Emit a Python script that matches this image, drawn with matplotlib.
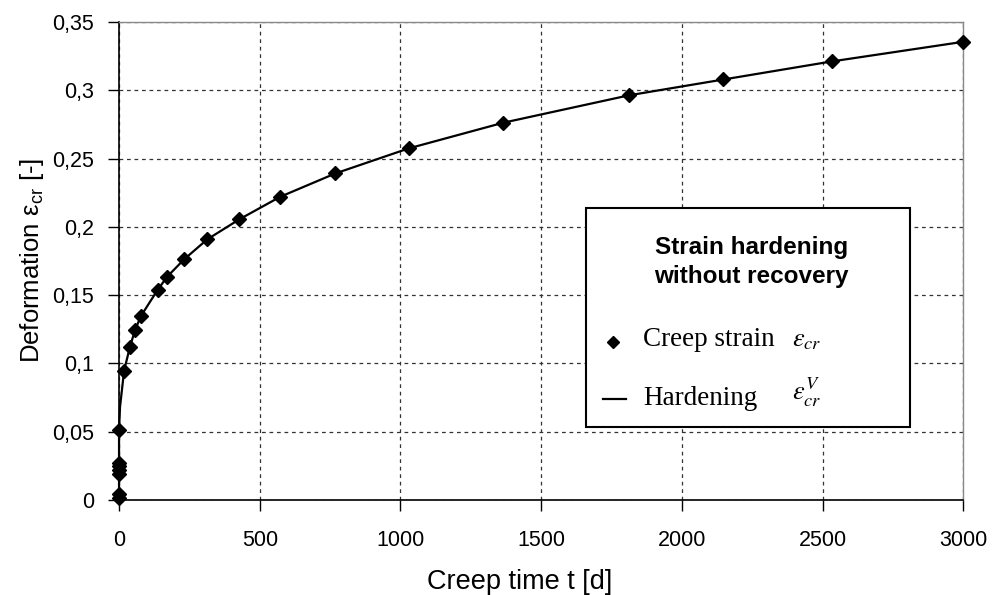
import numpy as np
import matplotlib.pyplot as plt
from matplotlib.patches import Rectangle
from matplotlib.lines import Line2D

plt.rcParams['font.family'] = ['Liberation Sans', 'DejaVu Sans']
plt.rcParams['mathtext.fontset'] = 'stix'

# measured creep strain (diamonds)
t_meas = [0, 0, 0, 0, 0, 0, 0, 18, 39, 57, 78, 137, 171, 231, 313, 427, 573, 769,
          1029, 1365, 1812, 2148, 2532, 3000]
eps_meas = [0.001, 0.004, 0.019, 0.022, 0.025, 0.027, 0.051, 0.0947, 0.1122, 0.1244,
            0.1347, 0.1537, 0.1634, 0.1761, 0.1907, 0.2054, 0.2220, 0.2391,
            0.2574, 0.2762, 0.2963, 0.3079, 0.3211, 0.3355]

# strain hardening model curve
t_model = [0, 0, 3.5, 18, 39, 57, 78, 137, 171, 231, 313, 427, 573, 769,
           1029, 1365, 1812, 2148, 2532, 3000]
eps_model = [0.0, 0.051, 0.068, 0.0947, 0.1122, 0.1244, 0.1347, 0.1537, 0.1634,
             0.1761, 0.1907, 0.2054, 0.2220, 0.2391, 0.2574, 0.2762, 0.2963,
             0.3079, 0.3211, 0.3355]

xticks = [0, 500, 1000, 1500, 2000, 2500, 3000]
yticks = [0, 0.05, 0.1, 0.15, 0.2, 0.25, 0.3, 0.35]
ytick_labels = ['0', '0,05', '0,1', '0,15', '0,2', '0,25', '0,3', '0,35']

fig = plt.figure(figsize=(9.92, 5.95), dpi=100)
ax = fig.add_axes([0.12, 0.16, 0.851, 0.803])

ax.plot(t_model, eps_model, color='black', lw=1.6, zorder=3, clip_on=False)
ax.plot(t_meas, eps_meas, linestyle='none', marker='D', ms=7, color='black',
        zorder=4, clip_on=False)

ax.set_xlim(0, 3000)
ax.set_ylim(0, 0.35)
ax.set_xticks(xticks)
ax.set_yticks(yticks)
ax.set_yticklabels(ytick_labels)
ax.tick_params(labelsize=15.5, direction='out', length=8, width=1,
               right=False, top=False)
ax.tick_params(axis='x', pad=14)
ax.tick_params(axis='y', pad=10)

ax.grid(True, linestyle=(0, (3, 3)), color='#333333', lw=0.9)
ax.set_axisbelow(True)
for s in ['top', 'right']:
    ax.spines[s].set_color('#888888')
    ax.spines[s].set_linewidth(1)
for s in ['left', 'bottom']:
    ax.spines[s].set_color('black')
    ax.spines[s].set_linewidth(1.2)

ax.set_xlabel('Creep time t [d]', fontsize=19.5)
ax.xaxis.set_label_coords(0.475, -0.145)
ax.set_ylabel(r'Deformation $\mathregular{\varepsilon_{cr}}$ [-]', fontsize=18.5)
ax.yaxis.set_label_coords(-0.086, 0.5)

# legend box
x0, x1 = 0.553, 0.937
y0, y1 = 0.153, 0.611
ax.add_patch(Rectangle((x0, y0), x1 - x0, y1 - y0, transform=ax.transAxes,
                       facecolor='white', edgecolor='black', lw=1.5, zorder=5))
ax.text(0.749, 0.498, 'Strain hardening\nwithout recovery', transform=ax.transAxes,
        ha='center', va='center', fontsize=17.5, fontweight='bold', linespacing=1.3, zorder=6)
ax.add_line(Line2D([0.5855], [0.330], transform=ax.transAxes, marker='D', ms=6,
                   color='black', zorder=6))
ax.add_line(Line2D([0.573, 0.601], [0.212, 0.212], transform=ax.transAxes,
                   color='black', lw=1.6, zorder=6))
ax.text(0.621, 0.335, 'Creep strain', transform=ax.transAxes, ha='left', va='center',
        fontsize=19.5, family='Liberation Serif', zorder=6)
ax.text(0.621, 0.212, 'Hardening', transform=ax.transAxes, ha='left', va='center',
        fontsize=19.5, family='Liberation Serif', zorder=6)
ax.text(0.797, 0.335, r'$\varepsilon_{cr}$', transform=ax.transAxes, ha='left',
        va='center', fontsize=19, zorder=6)
ax.text(0.797, 0.225, r'$\varepsilon_{cr}^{V}$', transform=ax.transAxes, ha='left',
        va='center', fontsize=19, zorder=6)

fig.savefig('out.png', dpi=100)
